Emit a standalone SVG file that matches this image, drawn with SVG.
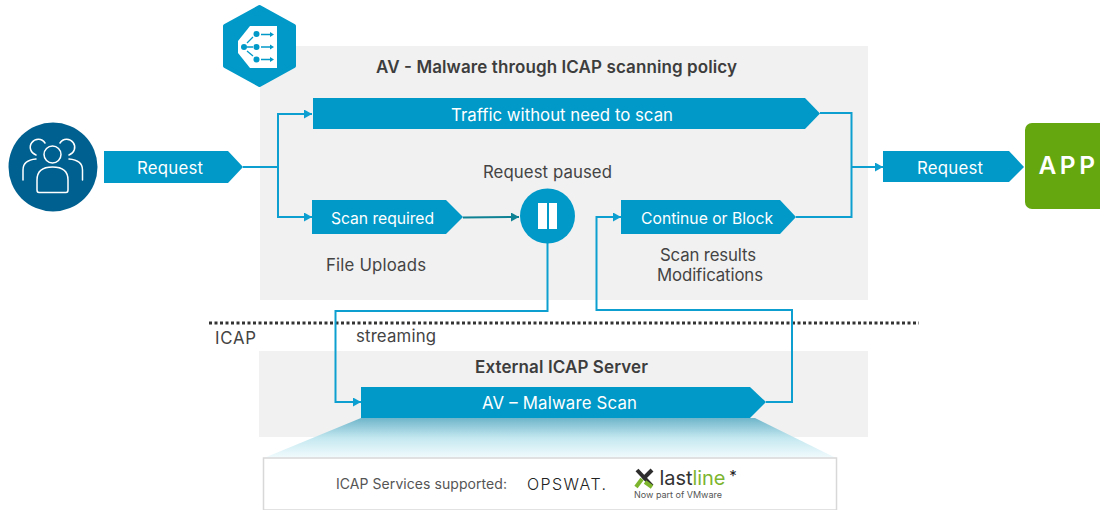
<svg xmlns="http://www.w3.org/2000/svg" width="1100" height="510" viewBox="0 0 1100 510">
<style>
text{font-family:Inter,"Open Sans","Liberation Sans",sans-serif;text-anchor:middle}
.w{fill:#fff;font-size:16.800px}
.s{fill:#fff;font-size:15.700px}
.d{fill:#444;font-size:16.800px}
.b{fill:#3d3d3d;font-size:17px;font-weight:600}
.tag{fill:#0099c8}
.c{fill:none;stroke:#0d9fd0;stroke-width:2}
.ic{fill:none;stroke:#fff;stroke-width:1.500;stroke-linecap:round}
</style>
<defs>
<marker id="a" markerUnits="userSpaceOnUse" markerWidth="9" markerHeight="9" refX="8" refY="4.500" orient="auto"><path d="M0 0L8 4.500L0 9Z" fill="#0d9fd0"/></marker>
<marker id="t" markerUnits="userSpaceOnUse" markerWidth="9" markerHeight="9" refX="8" refY="4.500" orient="auto"><path d="M0 0L8 4.500L0 9Z" fill="#0f8294"/></marker>
<linearGradient id="g" x1="0" y1="0" x2="0" y2="1"><stop offset="0" stop-color="#6fb5ca"/><stop offset="0.5" stop-color="#c4e8f0"/><stop offset="1" stop-color="#f2fbfd"/></linearGradient>
</defs>
<g id="panels">
<rect x="260" y="46" width="608" height="254" fill="#f1f1f1"/>
<rect x="259" y="351" width="609" height="86" fill="#f1f1f1"/>
</g>
<g id="funnel"><path d="M361 418H755L836 458H264Z" fill="url(#g)"/></g>
<g id="divider"><line x1="209" y1="323" x2="919" y2="323" stroke="#333" stroke-width="3" stroke-dasharray="3 2.500"/></g>
<g id="connectors">
<path class="c" d="M243 167H278V114H312" marker-end="url(#a)"/>
<path class="c" d="M278 167V217H312" marker-end="url(#a)"/>
<path class="c" d="M820 113H851.500V217H796"/>
<path class="c" d="M851.500 167H883" marker-end="url(#a)"/>
<path d="M463 217.500L519 217" fill="none" stroke="#0f8294" stroke-width="2" marker-end="url(#t)"/>
<path class="c" d="M547.500 243V311H335.500V402H361" marker-end="url(#a)"/>
<path class="c" d="M766 402H792V310H596.500V217H621" marker-end="url(#a)"/>
</g>
<g id="user">
<circle cx="53" cy="167" r="44.500" fill="#00608f"/>
<circle cx="52.500" cy="154.500" r="8.500" class="ic"/>
<path class="ic" d="M45 143A8 8 0 1 0 36 155M60 143A8 8 0 1 1 69 155M23 180V170Q23 160 36 159M82.500 180V170Q82.500 160 69 159M37 190V180Q37 167 52.500 167Q68 167 68 180V190Q68 192.500 66 192.500H39Q37 192.500 37 190Z"/>
</g>
<g id="policy-icon">
<path d="M259.500 7L294 26V66L259.500 85L225 66V26Z" fill="#0099c8" stroke="#0099c8" stroke-width="4" stroke-linejoin="round"/>
<path d="M277 26V68H250L238 53V41L250 26Z" fill="#fff"/>
<g fill="#0099c8"><circle cx="256.500" cy="34" r="3"/><circle cx="256.500" cy="47" r="3"/><circle cx="256.500" cy="59.500" r="3"/><circle cx="244" cy="47" r="3"/><path d="M270 32L274 34.500L270 37ZM270 44.500L274 47L270 49.500ZM270 57L274 59.500L270 62Z"/></g>
<path d="M247 43L253 37M247 47H253M247 51L253 56M261 34.500H271M261 47H271M261 59.500H271" stroke="#0099c8" stroke-width="1.300" fill="none"/>
</g>
<g id="request-in"><path class="tag" d="M104 151H228L243 167L228 183H104Z"/><text class="w" x="170" y="173.500" textLength="66">Request</text></g>
<g id="traffic"><path class="tag" d="M313 98H805L820 113.500L805 129H313Z"/><text class="w" x="562" y="120.500" textLength="222">Traffic without need to scan</text></g>
<g id="scan-required"><path class="tag" d="M312 200H446L463 217L446 234H312Z"/><text class="s" x="382.500" y="223.500" textLength="103">Scan required</text></g>
<g id="pause"><circle cx="547.500" cy="216" r="27.500" fill="#0099c8"/><rect x="538" y="203" width="9" height="26" fill="#fff"/><rect x="549" y="203" width="8" height="26" fill="#fff"/></g>
<g id="continue"><path class="tag" d="M621 200H780L796 217L780 234H621Z"/><text class="s" x="707" y="223.500" textLength="132">Continue or Block</text></g>
<g id="request-out"><path class="tag" d="M883 151H1009L1024 167L1009 182H883Z"/><text class="w" x="950" y="173.500" textLength="66">Request</text></g>
<g id="app"><rect x="1025" y="123" width="90" height="86" rx="7" fill="#65a70f"/><text x="1068.500" y="174" fill="#fff" font-size="24.500" font-weight="600" letter-spacing="3.500">APP</text></g>
<g id="av-scan"><path class="tag" d="M361 387H750L766 402L750 418H361Z"/><text class="w" x="559.500" y="408.500" textLength="155">AV – Malware Scan</text></g>
<g id="labels">
<text class="b" x="556.500" y="73" textLength="361">AV - Malware through ICAP scanning policy</text>
<text class="d" x="547.500" y="178" textLength="129">Request paused</text>
<text class="d" x="376" y="271" textLength="100">File Uploads</text>
<text class="d" x="708" y="261" textLength="96">Scan results</text>
<text class="d" x="710" y="281" textLength="106">Modifications</text>
<text class="d" x="235.500" y="344" textLength="41">ICAP</text>
<text class="d" x="396" y="342" textLength="80">streaming</text>
<text class="b" x="561.500" y="373" textLength="173">External ICAP Server</text>
</g>
<g id="services">
<rect x="263.500" y="458" width="573" height="52" fill="#fff" stroke="#d8d8d8" stroke-width="1.500"/>
<text x="421.500" y="489" fill="#555" font-size="14" textLength="171">ICAP Services supported:</text>
<text x="566.500" y="490" fill="#222" font-size="16" font-weight="300" textLength="79">OPSWAT.</text>
<g fill="none" stroke-width="4">
<path d="M637 470L652 486" stroke="#2d2d2d"/>
<path d="M652 470L643 479" stroke="#2d2d2d"/>
<path d="M642 479L636 487" stroke="#7db52f"/>
<path d="M645 482L652 487" stroke="#7db52f"/>
</g>
<text x="692.500" y="485" fill="#333" font-size="20" textLength="66">last<tspan fill="#7db52f">line</tspan></text>
<text x="733" y="481" fill="#222" font-size="15">*</text>
<text x="678" y="498" fill="#555" font-size="9" textLength="88">Now part of VMware</text>
</g>
</svg>
